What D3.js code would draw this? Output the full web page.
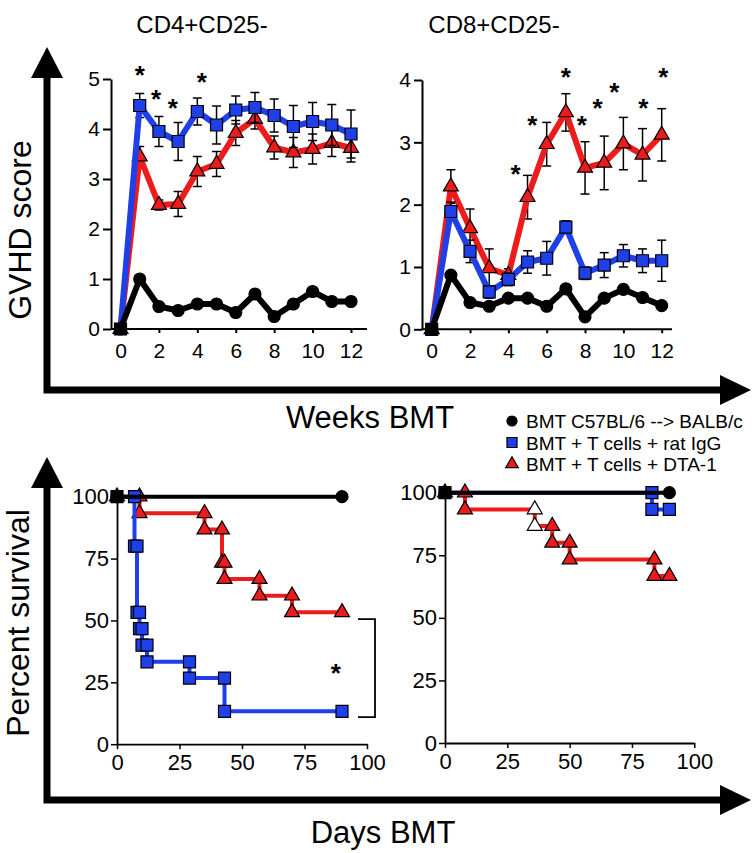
<!DOCTYPE html>
<html><head><meta charset="utf-8">
<script src="https://cdn.jsdelivr.net/npm/d3@7"></script>
<style>html,body{margin:0;padding:0;background:#fff;}</style>
</head><body>
<script>
// ---------------- DATA ----------------
const weeks = [0,1,2,3,4,5,6,7,8,9,10,11,12];
const weekTicks = [0,2,4,6,8,10,12];
const cd4ScoreTicks = [0,1,2,3,4,5];
const cd8ScoreTicks = [0,1,2,3,4];
const survTicks = [0,25,50,75,100];
const dayTicks = [0,25,50,75,100];

const panelTitles = ["CD4+CD25-","CD8+CD25-"];
const legendLabels = ["BMT C57BL/6 --> BALB/c","BMT + T cells + rat IgG","BMT + T cells + DTA-1"];

// CD4+CD25- GVHD score
const cd4Black   = [0,1.00,0.45,0.37,0.50,0.50,0.33,0.70,0.25,0.50,0.75,0.55,0.55];
const cd4Blue    = [0,4.47,3.95,3.75,4.35,4.08,4.38,4.43,4.27,4.05,4.15,4.08,3.90];
const cd4BlueErr = [0,0.24,0.30,0.38,0.27,0.38,0.28,0.30,0.33,0.42,0.38,0.41,0.48];
const cd4Red     = [0,3.45,2.48,2.50,3.15,3.30,3.92,4.20,3.63,3.53,3.60,3.72,3.62];
const cd4RedErr  = [0,0.20,0.10,0.25,0.30,0.25,0.25,0.20,0.23,0.30,0.30,0.27,0.28];
const cd4StarWeeks  = [1,1.85,2.72,4.23];
const cd4StarScores = [5.19,4.71,4.53,5.06];

// CD8+CD25- GVHD score
const cd8Black   = [0,0.87,0.43,0.37,0.50,0.50,0.37,0.65,0.20,0.50,0.64,0.51,0.38];
const cd8Blue    = [0,1.89,1.25,0.60,0.80,1.08,1.14,1.64,0.90,1.03,1.18,1.10,1.10];
const cd8BlueErr = [0,0.15,0.18,0.10,0.10,0.18,0.27,0.10,0.10,0.20,0.18,0.19,0.33];
const cd8Red     = [0,2.29,1.62,0.98,0.87,2.12,2.97,3.48,2.59,2.67,2.98,2.80,3.12];
const cd8RedErr  = [0,0.27,0.31,0.31,0.10,0.35,0.35,0.30,0.42,0.43,0.42,0.42,0.42];
const cd8StarWeeks  = [4.38,5.25,7.0,7.83,8.66,9.53,11.04,12.09];
const cd8StarScores = [2.58,3.37,4.15,3.37,3.64,3.90,3.64,4.15];

// Survival, CD4+CD25- (left)
const survLBlackDays = [0,90];
const survLBlack     = [100,100];
const survLBlueDays  = [0,7,8,9,10,12,29,43,90];
const survLBlue      = [100,80,53.3,46.7,40,33.3,26.7,13.3,13.3];
const survLRedDays   = [0,9,35,42,43,57,70,90];
const survLRed       = [100,93.3,86.7,73.3,66.7,60,53.3,53.3];
const survLBracketDays = [96.4,103.2];
const survLBracketPct  = [50.5,10.9];
const survLStar = [87.5,31.3];

// Survival, CD8+CD25- (right)
const survRBlackDays = [0,90];
const survRBlack     = [100,100];
const survRBlueDays  = [0,83,90];
const survRBlue      = [100,93.3,93.3];
const survRRedDays   = [0,8,36,43,50,84,90];
const survRRed       = [100,93.3,86.7,80,73.3,66.7,66.7];
const survRRedOpenDays = [36];

// ---------------- DRAW ----------------
const W = 755, H = 853;
const FONT = "'Liberation Sans', Arial, Helvetica, sans-serif";
const BLUE = "#1f3fe8", RED = "#ec1c1c", BLACK = "#000";

const svg = d3.select("body").append("svg").attr("width",W).attr("height",H)
  .style("font-family",FONT);
svg.append("rect").attr("width",W).attr("height",H).attr("fill","#fff");

function symPath(type, area){
  const t = type==="circle"?d3.symbolCircle:type==="square"?d3.symbolSquare:d3.symbolTriangle;
  return d3.symbol().type(t).size(area)();
}
const AREA = {circle:113, square:144, triangle:97};

function marker(g, type, x, y, fill, scale=1){
  g.append("path").attr("d", symPath(type, AREA[type]*scale))
    .attr("transform",`translate(${x},${y})`)
    .attr("fill",fill).attr("stroke","#000").attr("stroke-width",1.2);
}

function star(g, x, y, fs=26){
  g.append("text").attr("x",x).attr("y",y+0.575*fs).attr("text-anchor","middle")
    .attr("font-size",fs).attr("font-weight","bold").text("*");
}

// ----- Top panels -----
function topPanel(o){
  const x = d3.scaleLinear().domain([0,12]).range(o.xr);
  const y = d3.scaleLinear().domain([0,o.ymax]).range(o.yr);
  const g = svg.append("g");
  // axes
  const ya = g.append("g").attr("transform",`translate(${o.axisX},0)`)
    .call(d3.axisLeft(y).tickValues(o.yTicks).tickSize(8).tickSizeOuter(0).tickPadding(3).tickFormat(d3.format("d")));
  const xa = g.append("g").attr("transform",`translate(0,${o.yr[0]})`)
    .call(d3.axisBottom(x).tickValues(weekTicks).tickSize(4).tickSizeOuter(0).tickPadding(10).tickFormat(d3.format("d")));
  xa.select(".domain").remove();
  g.append("line").attr("x1",o.axisX).attr("x2",o.xAxisEnd).attr("y1",o.yr[0]).attr("y2",o.yr[0])
    .attr("stroke","#000").attr("stroke-width",2);
  [ya,xa].forEach(a=>{
    a.selectAll("text").attr("font-size",21).attr("font-family",FONT).attr("fill","#000");
    a.selectAll("line").attr("stroke","#000").attr("stroke-width",2);
    a.select(".domain").attr("stroke","#000").attr("stroke-width",2);
  });

  const line = d3.line().x((d,i)=>x(weeks[i])).y(d=>y(d));
  o.series.forEach(s=>{
    const sg = g.append("g");
    if (s.err){
      s.vals.forEach((v,i)=>{
        if (i===0 || !s.err[i]) return;
        const x0 = x(weeks[i]), yt = y(v+s.err[i]), yb = y(v-s.err[i]);
        sg.append("line").attr("x1",x0).attr("x2",x0).attr("y1",yt).attr("y2",yb)
          .attr("stroke","#000").attr("stroke-width",1.5);
        [yt,yb].forEach(yy=>sg.append("line").attr("x1",x0-4.5).attr("x2",x0+4.5)
          .attr("y1",yy).attr("y2",yy).attr("stroke","#000").attr("stroke-width",1.5));
      });
    }
    sg.append("path").attr("d",line(s.vals)).attr("fill","none")
      .attr("stroke",s.color).attr("stroke-width",6).attr("stroke-linejoin","round");
    s.vals.forEach((v,i)=>marker(sg, s.type, x(weeks[i]), y(v), i===0?"#000":s.color));
  });
  o.stars[0].forEach((w,i)=>star(g, x(w), y(o.stars[1][i])));
  g.append("text").attr("x",o.titleX).attr("y",33).attr("text-anchor","middle")
    .attr("font-size",24).text(o.title);
}

topPanel({xr:[120.5,351], yr:[329,79], ymax:5, axisX:111, xAxisEnd:367, yTicks:cd4ScoreTicks,
  title:panelTitles[0], titleX:202,
  series:[
    {vals:cd4Red, err:cd4RedErr, color:RED, type:"triangle"},
    {vals:cd4Blue, err:cd4BlueErr, color:BLUE, type:"square"},
    {vals:cd4Black, color:BLACK, type:"circle"}],
  stars:[cd4StarWeeks, cd4StarScores]});

topPanel({xr:[431.7,661.7], yr:[329.3,80], ymax:4, axisX:422, xAxisEnd:672, yTicks:cd8ScoreTicks,
  title:panelTitles[1], titleX:494,
  series:[
    {vals:cd8Red, err:cd8RedErr, color:RED, type:"triangle"},
    {vals:cd8Blue, err:cd8BlueErr, color:BLUE, type:"square"},
    {vals:cd8Black, color:BLACK, type:"circle"}],
  stars:[cd8StarWeeks, cd8StarScores]});

// ----- Survival panels -----
function survPanel(o){
  const x = d3.scaleLinear().domain([0,100]).range(o.xr);
  const y = d3.scaleLinear().domain([0,100]).range(o.yr);
  const g = svg.append("g");
  const ya = g.append("g").attr("transform",`translate(${o.xr[0]},0)`)
    .call(d3.axisLeft(y).tickValues(survTicks).tickSize(6).tickSizeOuter(0).tickPadding(2));
  const xa = g.append("g").attr("transform",`translate(0,${o.yr[0]})`)
    .call(d3.axisBottom(x).tickValues(dayTicks).tickSize(5).tickSizeOuter(0).tickPadding(5));
  [ya,xa].forEach(a=>{
    a.selectAll("text").attr("font-size",22).attr("font-family",FONT).attr("fill","#000");
    a.selectAll("line").attr("stroke","#000").attr("stroke-width",1.5);
    a.select(".domain").attr("stroke","#000").attr("stroke-width",1.8);
  });
  const line = d3.line().curve(d3.curveStepAfter).x(d=>x(d[0])).y(d=>y(d[1]));
  o.series.forEach(s=>{
    const sg = g.append("g");
    const pts = s.days.map((t,i)=>[t,s.surv[i]]);
    sg.append("path").attr("d",line(pts)).attr("fill","none")
      .attr("stroke",s.color).attr("stroke-width",4);
    const verts = [[s.days[0],s.surv[0]]];
    for (let i=1;i<s.days.length;i++){
      verts.push([s.days[i],s.surv[i-1]]);
      if (s.surv[i]!==s.surv[i-1]) verts.push([s.days[i],s.surv[i]]);
    }
    verts.forEach((v,i)=>{
      let fill = i===0 ? "#000" : s.color;
      if (s.open && s.open.includes(v[0])) fill = "#fff";
      marker(sg, s.type, x(v[0]), y(v[1]), fill);
    });
  });
  if (o.bracket){
    const [d0,d1] = o.bracket[0], [p0,p1] = o.bracket[1];
    g.append("path").attr("d",`M${x(d0)},${y(p0)}H${x(d1)}V${y(p1)}H${x(d0)}`)
      .attr("fill","none").attr("stroke","#000").attr("stroke-width",1.8);
  }
  if (o.star) star(g, x(o.star[0]), y(o.star[1]));
}

survPanel({xr:[117,367], yr:[744.2,496.7],
  series:[
    {days:survLRedDays, surv:survLRed, color:RED, type:"triangle"},
    {days:survLBlueDays, surv:survLBlue, color:BLUE, type:"square"},
    {days:survLBlackDays, surv:survLBlack, color:BLACK, type:"circle"}],
  bracket:[survLBracketDays, survLBracketPct], star:survLStar});

survPanel({xr:[445,694.3], yr:[743,492.7],
  series:[
    {days:survRRedDays, surv:survRRed, color:RED, type:"triangle", open:survRRedOpenDays},
    {days:survRBlueDays, surv:survRBlue, color:BLUE, type:"square"},
    {days:survRBlackDays, surv:survRBlack, color:BLACK, type:"circle"}]});

// ----- Big arrows -----
function bigArrow(yTip, yCorner, xTip){
  svg.append("path").attr("d",`M47,${yTip+28}V${yCorner}H${xTip-28}`)
    .attr("fill","none").attr("stroke","#000").attr("stroke-width",7).attr("stroke-linejoin","miter");
  svg.append("path").attr("d",`M47,${yTip}L31,${yTip+31}L63,${yTip+31}Z`).attr("fill","#000");
  svg.append("path").attr("d",`M${xTip},${yCorner}L${xTip-31},${yCorner-15}L${xTip-31},${yCorner+15}Z`).attr("fill","#000");
}
bigArrow(47, 390, 751);
bigArrow(457, 800, 751);

// Axis titles
svg.append("text").attr("transform","translate(31,230) rotate(-90)").attr("text-anchor","middle")
  .attr("font-size",32).text("GVHD score");
svg.append("text").attr("transform","translate(29,623) rotate(-90)").attr("text-anchor","middle")
  .attr("font-size",32).text("Percent survival");
svg.append("text").attr("x",370).attr("y",428).attr("text-anchor","middle")
  .attr("font-size",31).text("Weeks BMT");
svg.append("text").attr("x",383).attr("y",843).attr("text-anchor","middle")
  .attr("font-size",31).text("Days BMT");

// Legend
const legTypes = ["circle","square","triangle"];
const legColors = [BLACK, BLUE, RED];
const legY = [421, 442.5, 464];
legendLabels.forEach((l,i)=>{
  marker(svg, legTypes[i], 512, legY[i], legColors[i], 0.7);
  svg.append("text").attr("x",526).attr("y",legY[i]+7).attr("font-size",19).text(l);
});
</script>
</body></html>
